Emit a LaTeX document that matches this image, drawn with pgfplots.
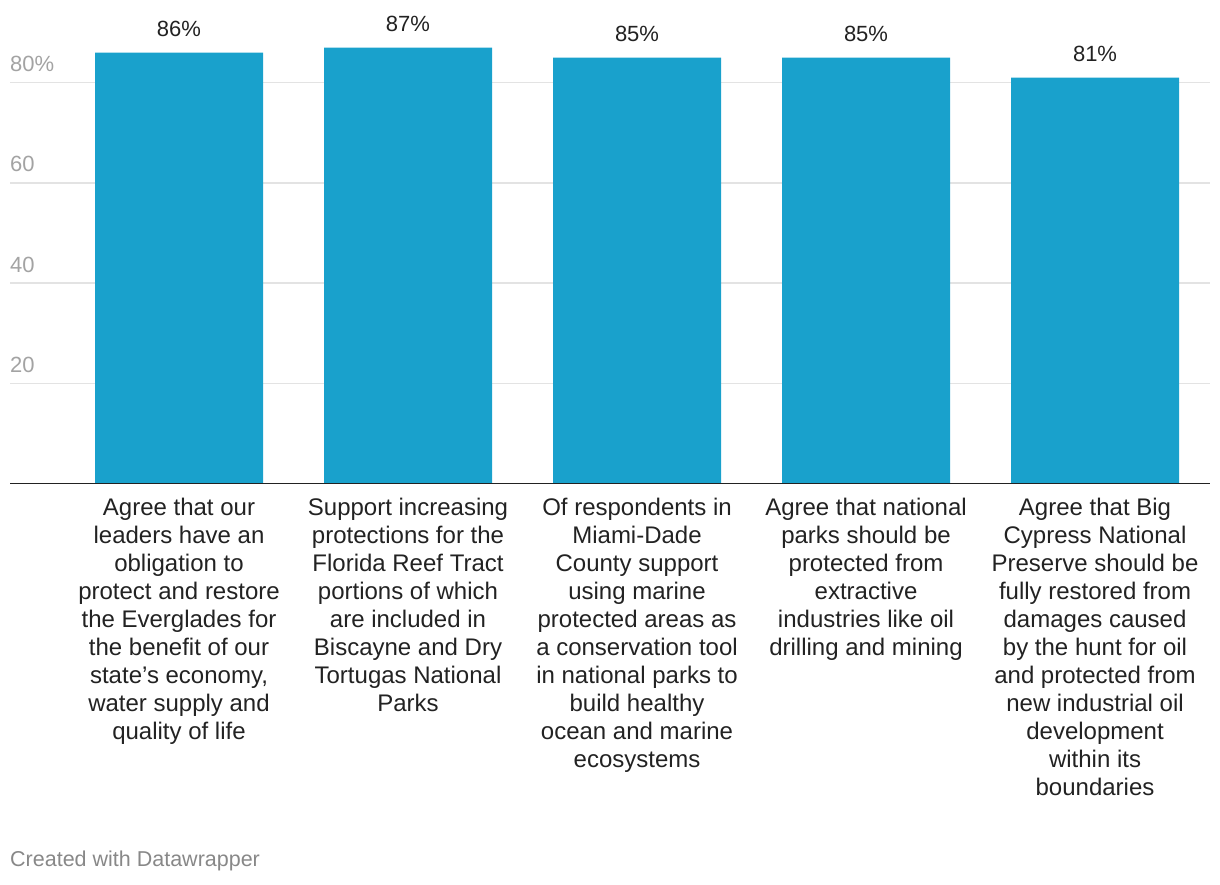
\documentclass[border=0pt]{standalone}
\usepackage{pgfplots}
\pgfplotsset{compat=1.18}
\usepackage{fontspec}
\setmainfont{Liberation Sans}
\definecolor{barblue}{RGB}{25,161,204}
\definecolor{gridgray}{RGB}{227,227,227}
\definecolor{tickgray}{RGB}{163,163,163}
\definecolor{labeldark}{RGB}{34,34,34}
\definecolor{footgray}{RGB}{136,136,136}
\begin{document}
\begin{tikzpicture}
\path[use as bounding box] (0pt,0pt) rectangle (1220pt,884pt);
\begin{axis}[
  at={(10pt,400.5pt)}, anchor=south west,
  scale only axis, width=1200pt, height=481pt,
  xmin=-0.738, xmax=4.502, ymin=0, ymax=96,
  axis line style={draw=none},
  ybar, bar width=168pt,
  /pgf/number format/assume math mode=true,
  ytick={20,40,60,80}, yticklabels={20,40,60,80\%},
  ymajorgrids, grid style={gridgray, line width=1.3pt},
  major tick length=0pt,
  yticklabel style={anchor=base west, inner sep=0pt, yshift=11pt, text=tickgray, font=\fontsize{22}{26}\selectfont},
  xtick={0,1,2,3,4},
  xticklabels={
    {Agree that our\\leaders have an\\obligation to\\protect and restore\\the Everglades for\\the benefit of our\\state’s economy,\\water supply and\\quality of life},
    {Support increasing\\protections for the\\Florida Reef Tract\\portions of which\\are included in\\Biscayne and Dry\\Tortugas National\\Parks},
    {Of respondents in\\Miami-Dade\\County support\\using marine\\protected areas as\\a conservation tool\\in national parks to\\build healthy\\ocean and marine\\ecosystems},
    {Agree that national\\parks should be\\protected from\\extractive\\industries like oil\\drilling and mining},
    {Agree that Big\\Cypress National\\Preserve should be\\fully restored from\\damages caused\\by the hunt for oil\\and protected from\\new industrial oil\\development\\within its\\boundaries}
  },
  xticklabel style={anchor=north, align=center, inner sep=0pt, yshift=-14pt, text=labeldark, font=\fontsize{24}{28}\selectfont},
  nodes near coords={\pgfmathprintnumber{\pgfplotspointmeta}\%},
  every node near coord/.append style={anchor=base, inner sep=0pt, yshift=16pt, text=labeldark, font=\fontsize{22}{26}\selectfont},
  clip=false,
]
\addplot[fill=barblue, draw=none] coordinates {(0,86) (1,87) (2,85) (3,85) (4,81)};
\draw[labeldark, line width=1.6pt] (axis cs:-0.738,0) -- (axis cs:4.502,0);
\end{axis}
\node[anchor=base west, inner sep=0pt, text=footgray, font=\fontsize{21.5}{25}\selectfont] at (10pt,18pt) {Created with Datawrapper};
\end{tikzpicture}
\end{document}
